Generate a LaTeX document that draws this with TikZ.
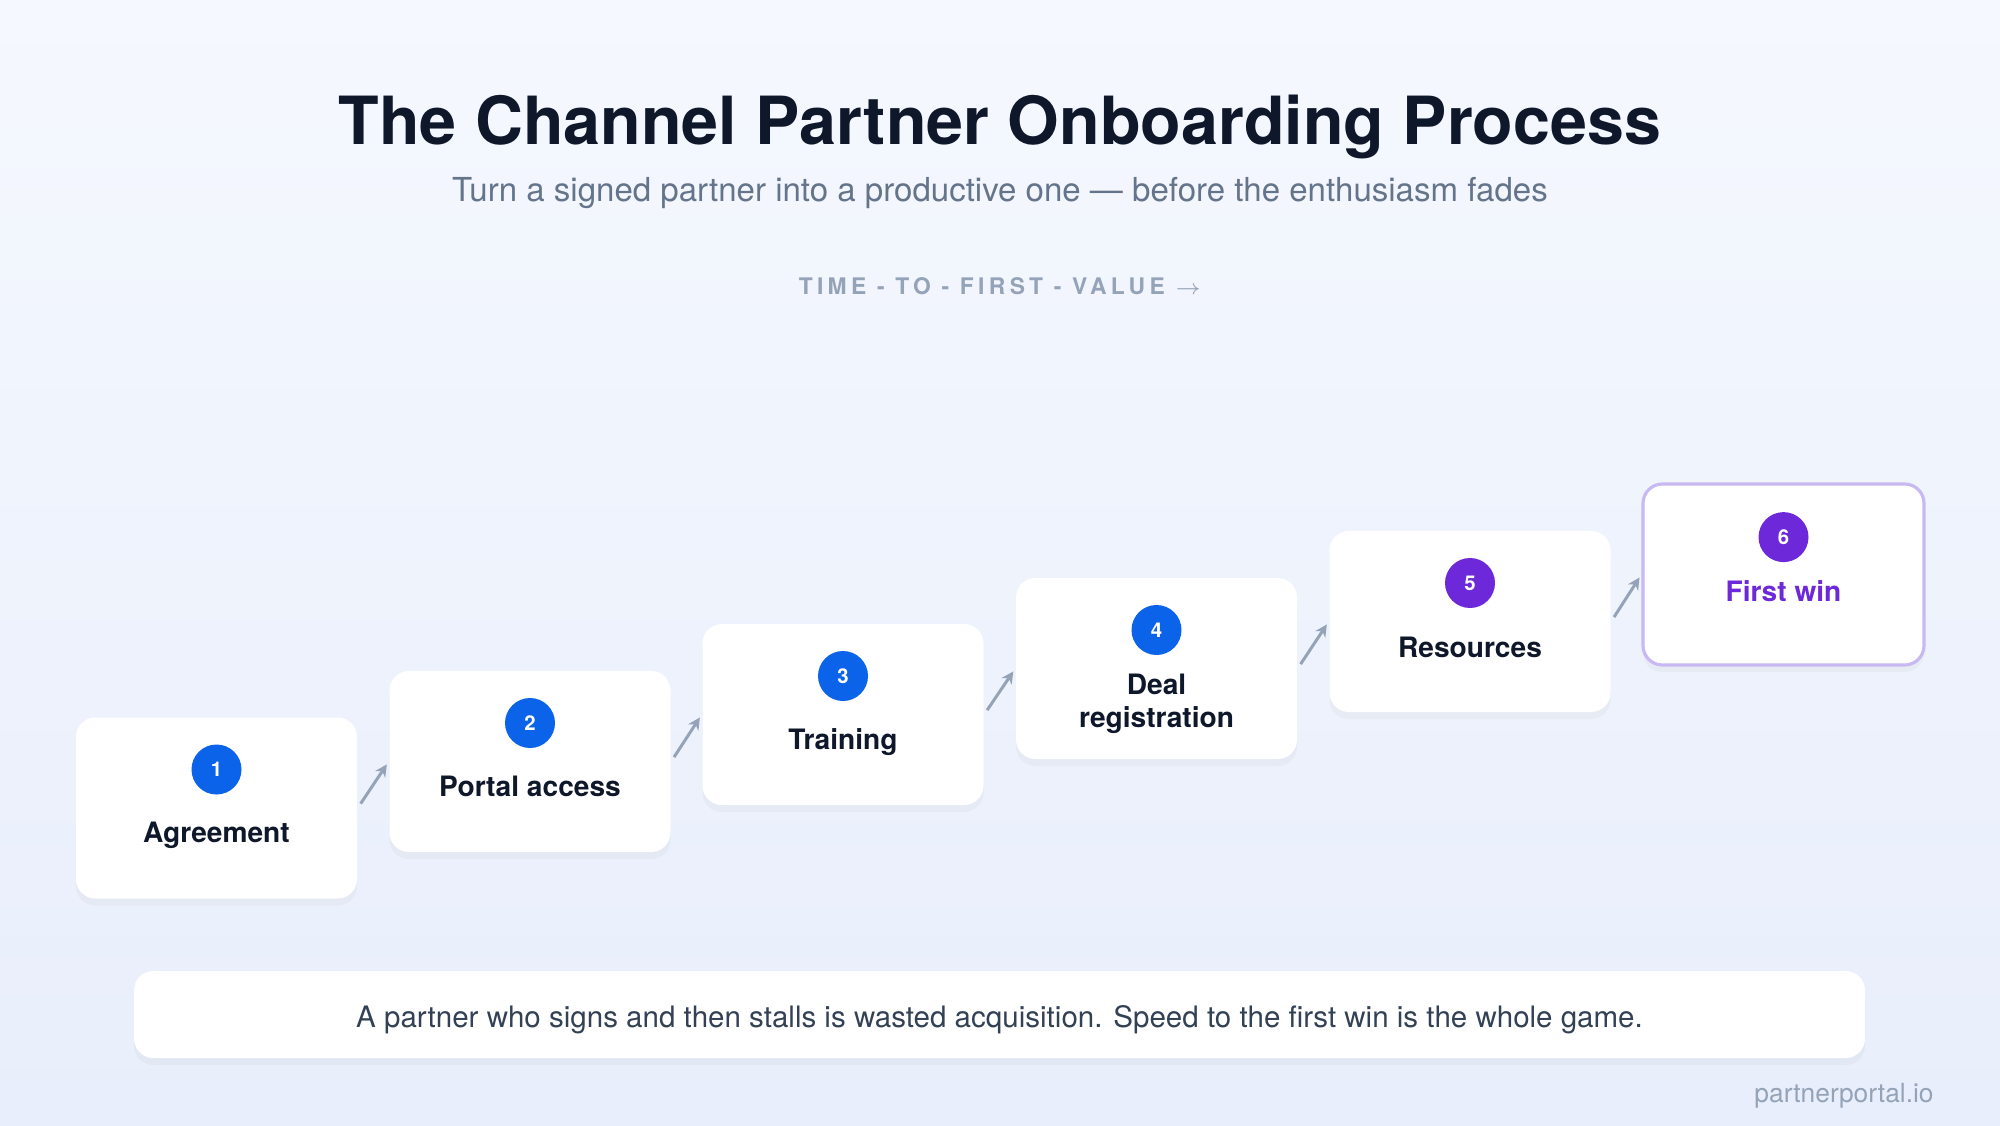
\documentclass[tikz,border=0pt]{standalone}
\usepackage{fontspec}
\setmainfont{TeX Gyre Heros}
\usetikzlibrary{arrows.meta,positioning,shadows}
\definecolor{cfondoa}{HTML}{F5F8FE}
\definecolor{cfondob}{HTML}{E8EEFB}
\definecolor{ctitulo}{HTML}{0F172A}
\definecolor{csub}{HTML}{64748B}
\definecolor{cgris}{HTML}{94A3B8}
\definecolor{cnota}{HTML}{334155}
\definecolor{cazul}{HTML}{0A63E8}
\definecolor{cmorado}{HTML}{6D28D9}
\definecolor{clila}{HTML}{C9B9F2}
\tikzset{
  paso/.style={fill=white,rounded corners=5.5pt,minimum width=2.81cm,minimum height=1.81cm,
               drop shadow={opacity=0.06,shadow xshift=0pt,shadow yshift=-2pt}},
  pasof/.style={paso,draw=clila,line width=0.9pt},
  insignia/.style={circle,fill=cazul,text=white,minimum size=0.5cm,inner sep=0pt,
                   font=\fontsize{5.8}{7}\selectfont\bfseries},
  insigniam/.style={insignia,fill=cmorado},
  et/.style={font=\fontsize{8}{9.4}\selectfont\bfseries,text=ctitulo,align=center,inner sep=1pt},
  flecha/.style={-{Stealth[length=1.2mm,width=1.2mm]},draw=cgris,line width=0.85pt,
                 shorten <=1.5pt,shorten >=1pt},
  nota/.style={fill=white,rounded corners=5.5pt,minimum width=17.31cm,minimum height=0.87cm,
               drop shadow={opacity=0.06,shadow xshift=0pt,shadow yshift=-2pt},
               text height=0.72em,text depth=0pt,
               font=\fontsize{8.4}{10}\selectfont,text=cnota},
}

\begin{document}
\begin{tikzpicture}[x=1cm,y=1cm]

\useasboundingbox (0,0) rectangle (20,11.25);
\shade[top color=cfondoa,bottom color=cfondob] (0,0) rectangle (20,11.25);

\node[font=\fontsize{18.9}{22}\selectfont\bfseries,text=ctitulo] (titulo) at (10,9.98)
  {The Channel Partner Onboarding Process};
\node[font=\fontsize{9.4}{11}\selectfont,text=csub] (sub) at (10,9.32)
  {Turn a signed partner into a productive one — before the enthusiasm fades};
\node[font=\fontsize{6.5}{8}\selectfont\bfseries\addfontfeatures{LetterSpace=19},text=cgris] (eje) at (10,8.39)
  {TIME - TO - FIRST - VALUE $\rightarrow$};

% pasos
\node[paso]  (s1) at (2.165,3.17)  {};
\node[paso]  (s2) at (5.30,3.635)  {};
\node[paso]  (s3) at (8.43,4.105)  {};
\node[paso]  (s4) at (11.565,4.565) {};
\node[paso]  (s5) at (14.70,5.035) {};
\node[pasof] (s6) at (17.835,5.505) {};

\node[insignia,below=0.27cm of s1.north]  (n1) {1};
\node[insignia,below=0.27cm of s2.north]  (n2) {2};
\node[insignia,below=0.27cm of s3.north]  (n3) {3};
\node[insignia,below=0.27cm of s4.north]  (n4) {4};
\node[insigniam,below=0.27cm of s5.north] (n5) {5};
\node[insigniam,below=0.29cm of s6.north] (n6) {6};

\node[et] (e1) at ([yshift=-0.27cm]s1.center) {Agreement};
\node[et] (e2) at ([yshift=-0.25cm]s2.center) {Portal access};
\node[et] (e3) at ([yshift=-0.28cm]s3.center) {Training};
\node[et] (e4) at ([yshift=-0.35cm]s4.center) {Deal\\registration};
\node[et] (e5) at ([yshift=-0.26cm]s5.center) {Resources};
\node[et,text=cmorado] (e6) at ([yshift=-0.17cm]s6.center) {First win};

\draw[flecha] (s1.east) -- (s2.west);
\draw[flecha] (s2.east) -- (s3.west);
\draw[flecha] (s3.east) -- (s4.west);
\draw[flecha] (s4.east) -- (s5.west);
\draw[flecha] (s5.east) -- (s6.west);

\node[nota] (nota) at (9.995,1.105)
  {A partner who signs and then stalls is wasted acquisition. Speed to the first win is the whole game.};
\node[anchor=east,font=\fontsize{7.5}{9}\selectfont,text=cgris] (marca) at (19.46,0.29) {partnerportal.io};

\end{tikzpicture}
\end{document}
